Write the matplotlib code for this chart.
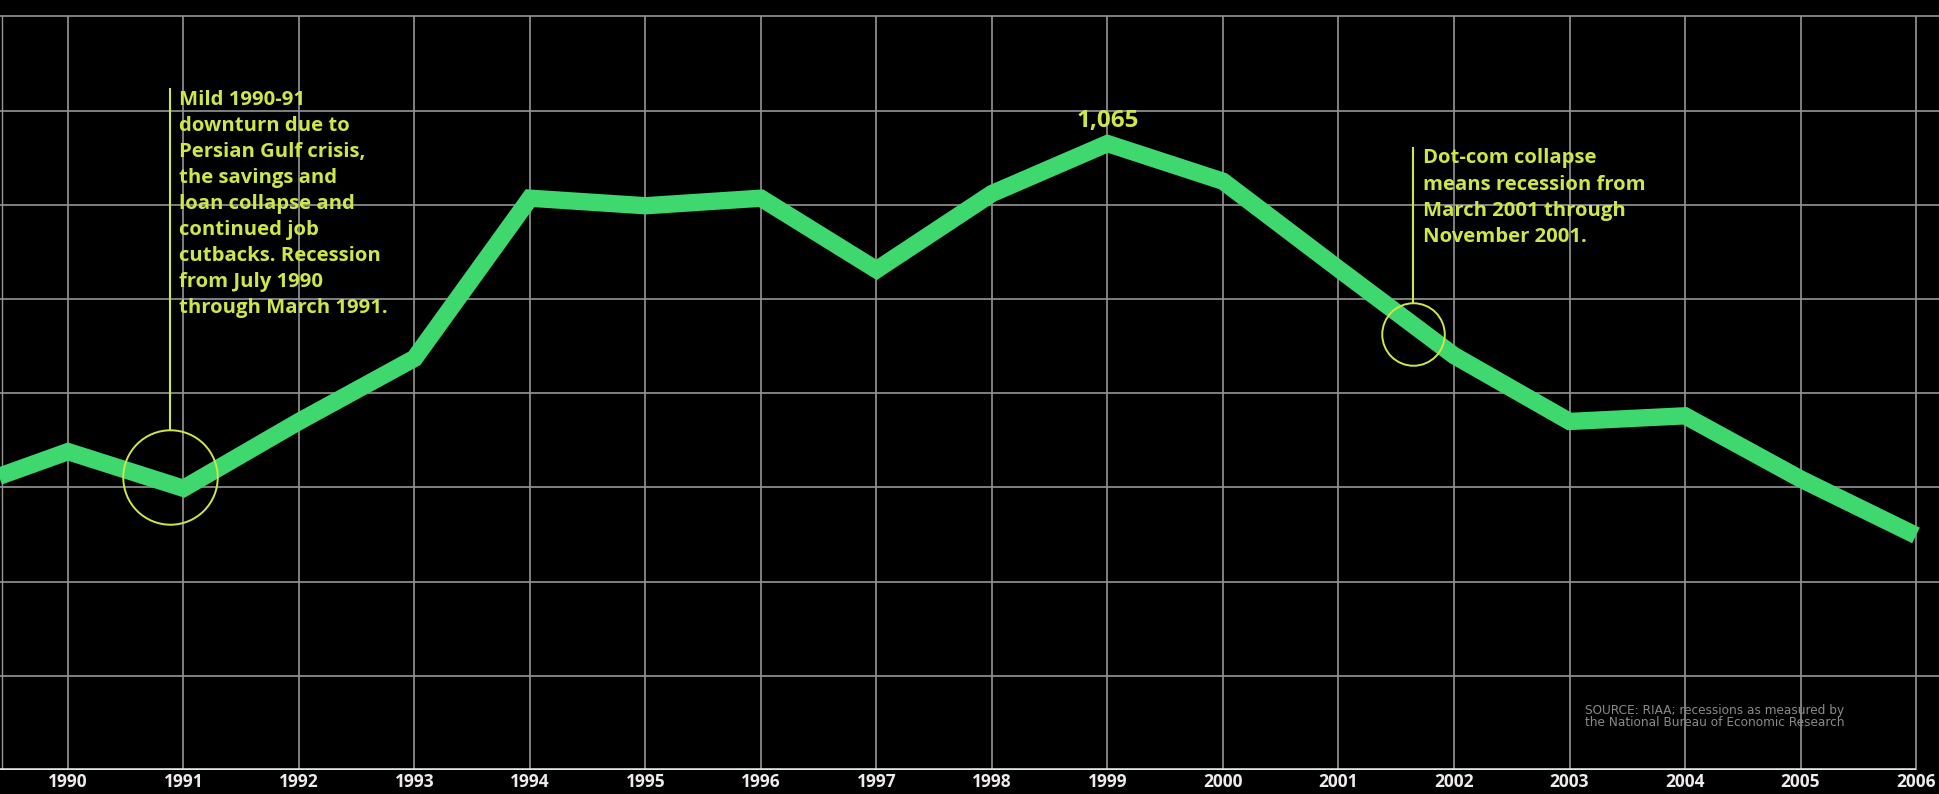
import numpy as np
import matplotlib.pyplot as plt

# values (peak labelled 1,065 in 1999)
years = [1989, 1990, 1991, 1992, 1993, 1994, 1995, 1996, 1997,
         1998, 1999, 2000, 2001, 2002, 2003, 2004, 2005, 2006]
units = [694, 738, 699, 770, 837, 1007, 999, 1007, 931,
         1012, 1065, 1025, 932, 840, 770, 776, 709, 649]
tick_years = list(range(1990, 2007))
grid_values = list(range(400, 1201, 100))

note_1991 = ("Mild 1990-91\ndownturn due to\nPersian Gulf crisis,\nthe savings and\n"
             "loan collapse and\ncontinued job\ncutbacks. Recession\nfrom July 1990\n"
             "through March 1991.")
note_2001 = "Dot-com collapse\nmeans recession from\nMarch 2001 through\nNovember 2001."
source = "SOURCE: RIAA; recessions as measured by\nthe National Bureau of Economic Research"

LINE = '#3ed86e'
NOTE = '#cfe64a'
GRID = '#959595'
FONT = ['Open Sans', 'DejaVu Sans']

fig = plt.figure(figsize=(19.4, 7.94), dpi=100, facecolor='black')
ax = fig.add_axes([0, 24 / 794, 1, 770 / 794], facecolor='black')

x0, x1 = 1990 - 68 / 115.5, 1990 + 1872 / 115.5
ax.set_xlim(x0, x1)
ax.set_ylim(400, 400 + 770 / 0.942)

# grid
ax.hlines(grid_values[1:], x0, x1, color=GRID, lw=1.2, zorder=1)
ax.vlines(tick_years, 400, 1200, color=GRID, lw=1.2, zorder=1)
ax.vlines([x0 + 2 / 115.5], 400, 1200, color=GRID, lw=1.0, zorder=1)
ax.hlines([400], x0, 2006, color='#dfe6e6', lw=2.6, zorder=2)

# main series
ax.plot(years, units, color=LINE, lw=12.5, solid_joinstyle='miter',
        solid_capstyle='butt', zorder=3)
ax.annotate('1,065', (1999, 1065), xytext=(0, 16), textcoords='offset points',
            ha='center', va='center', color=NOTE, fontsize=17.5, fontweight='bold',
            family=FONT, zorder=5)

# recession callouts
ax.plot([1990.883], [711], 'o', ms=68, mfc='none', mec=NOTE, mew=1.4, zorder=4)
ax.vlines([1990.883], 761, 1124, color=NOTE, lw=1.5, zorder=4)
ax.text(1990.961, 1122, note_1991, ha='left', va='top', color=NOTE,
        fontsize=14.6, fontweight='bold', family=FONT, linespacing=1.4, zorder=5)

ax.plot([2001.645], [863], 'o', ms=45, mfc='none', mec=NOTE, mew=1.4, zorder=4)
ax.vlines([2001.645], 896, 1061, color=NOTE, lw=1.5, zorder=4)
ax.text(2001.731, 1060, note_2001, ha='left', va='top', color=NOTE,
        fontsize=14.6, fontweight='bold', family=FONT, linespacing=1.42, zorder=5)

ax.text(1989.411 + 1585 / 115.5, 400 + (770 - 704) / 0.942, source, ha='left', va='top',
        color='#8a8a8a', fontsize=8.7, family='DejaVu Sans', linespacing=0.95, zorder=5)

ax.set_xticks(tick_years)
ax.set_xticklabels([str(y) for y in tick_years], color='#ececec', fontsize=12.5,
                   fontweight='bold', family=FONT)
ax.tick_params(axis='x', length=0, pad=2)
ax.set_yticks([])
for s in ax.spines.values():
    s.set_visible(False)

fig.savefig('out.png', dpi=100, facecolor='black')
